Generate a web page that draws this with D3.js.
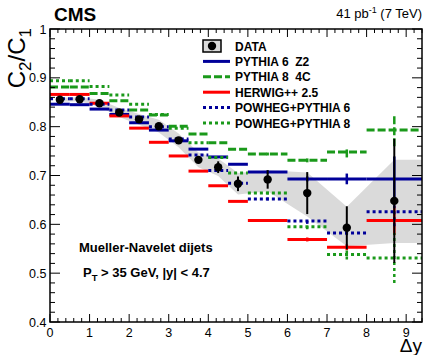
<!DOCTYPE html>
<html>
<head>
<meta charset="utf-8">
<script src="https://cdn.jsdelivr.net/npm/d3@7"></script>
<style>
  body { margin: 0; background: #fff; }
  svg { display: block; }
  text { font-family: "Liberation Sans", Arial, Helvetica, sans-serif; fill: #000; white-space: pre; }
</style>
</head>
<body>
<svg id="chart" width="425" height="355"></svg>
<script>
// Δy bins
const binLow    = [0, 0.5, 1, 1.5, 2, 2.5, 3, 3.5, 4, 4.5, 5, 6, 7, 8];
const binHigh   = [0.5, 1, 1.5, 2, 2.5, 3, 3.5, 4, 4.5, 5, 6, 7, 8, 9.4];
const binCenter = [0.25, 0.75, 1.25, 1.75, 2.25, 2.75, 3.25, 3.75, 4.25, 4.75, 5.5, 6.5, 7.5, 8.7];

// Measured C2/C1 with statistical and systematic uncertainties
const dataValues = [0.855, 0.856, 0.848, 0.829, 0.815, 0.801, 0.772, 0.732, 0.717, 0.683, 0.692, 0.664, 0.593, 0.648];
const dataStat   = [0.003, 0.003, 0.003, 0.003, 0.003, 0.003, 0.004, 0.005, 0.012, 0.015, 0.019, 0.043, 0.044, 0.127];
const sysUp      = [0.004, 0.004, 0.007, 0.009, 0.011, 0.013, 0.014, 0.015, 0.018, 0.022, 0.019, 0.042, 0.043, 0.084];
const sysDown    = [0.004, 0.004, 0.007, 0.009, 0.011, 0.013, 0.014, 0.015, 0.018, 0.022, 0.024, 0.048, 0.038, 0.086];

// Generator predictions per bin, with their statistical uncertainties
const pythia6Z2    = [0.846, 0.845, 0.836, 0.825, 0.808, 0.793, 0.771, 0.754, 0.738, 0.723, 0.707, 0.693, 0.693, 0.693];
const pythia6Z2Err = [0, 0, 0, 0, 0, 0, 0, 0, 0, 0, 0.003, 0.005, 0.011, 0.046];
const pythia84C    = [0.881, 0.881, 0.868, 0.853, 0.834, 0.824, 0.801, 0.785, 0.767, 0.754, 0.744, 0.731, 0.748, 0.793];
const pythia84CErr = [0, 0, 0, 0, 0, 0, 0, 0, 0, 0, 0.003, 0.004, 0.011, 0.033];
const herwig25     = [0.866, 0.866, 0.848, 0.822, 0.797, 0.768, 0.740, 0.709, 0.679, 0.647, 0.608, 0.569, 0.553, 0.608];
const herwig25Err  = [0, 0, 0, 0, 0, 0, 0, 0, 0, 0, 0.002, 0.004, 0.006, 0.030];
const powhegP6     = [0.857, 0.857, 0.846, 0.834, 0.820, 0.800, 0.775, 0.742, 0.710, 0.684, 0.652, 0.607, 0.582, 0.626];
const powhegP6Err  = [0, 0, 0, 0, 0, 0, 0, 0, 0, 0, 0.003, 0.006, 0.004, 0.030];
const powhegP8     = [0.894, 0.894, 0.882, 0.865, 0.846, 0.825, 0.797, 0.767, 0.737, 0.705, 0.664, 0.595, 0.538, 0.531];
const powhegP8Err  = [0, 0, 0, 0, 0, 0, 0, 0, 0, 0, 0.003, 0.005, 0.010, 0.051];

// Axis ticks and labels
const xMajorTicks = [0, 1, 2, 3, 4, 5, 6, 7, 8, 9];
const yMajorTicks = [0.4, 0.5, 0.6, 0.7, 0.8, 0.9, 1.0];
const yTickLabels = ["0.4", "0.5", "0.6", "0.7", "0.8", "0.9", "1"];
const legendLabels = ["DATA", "PYTHIA 6\u00a0\u00a0Z2", "PYTHIA 8\u00a0\u00a04C", "HERWIG++ 2.5", "POWHEG+PYTHIA 6", "POWHEG+PYTHIA 8"];

const models = [
  { values: pythia6Z2, errors: pythia6Z2Err, color: "#000099", dash: null },
  { values: pythia84C, errors: pythia84CErr, color: "#1a991a", dash: "8,3" },
  { values: herwig25,  errors: herwig25Err,  color: "#ff0000", dash: null },
  { values: powhegP6,  errors: powhegP6Err,  color: "#000099", dash: "3,3" },
  { values: powhegP8,  errors: powhegP8Err,  color: "#1a991a", dash: "3,3" }
];

const svg = d3.select("#chart");
const frameLeft = 50, frameRight = 422, frameTop = 29, frameBottom = 322;

const x = d3.scaleLinear().domain([0, 9.4]).range([frameLeft, frameRight]);
const y = d3.scaleLinear().domain([0.4, 1.0]).range([frameBottom, frameTop]);

const plot = svg.append("g");

// Systematic uncertainty band
const bandPts = binCenter.map((c, i) => ({ x: c, lo: dataValues[i] - sysDown[i], hi: dataValues[i] + sysUp[i] }));
const lastPt = bandPts[bandPts.length - 1];
bandPts.push({ x: x.domain()[1], lo: lastPt.lo, hi: lastPt.hi });
plot.append("path")
  .datum(bandPts)
  .attr("fill", "#dadada")
  .attr("d", d3.area().x(d => x(d.x)).y0(d => y(d.lo)).y1(d => y(d.hi)));

// Model predictions: horizontal bin segments plus vertical uncertainty ticks
models.forEach(m => {
  const g = plot.append("g");
  g.selectAll("line.h")
    .data(m.values)
    .join("line")
    .attr("class", "h")
    .attr("x1", (v, i) => x(binLow[i]))
    .attr("x2", (v, i) => x(binHigh[i]))
    .attr("y1", v => y(v))
    .attr("y2", v => y(v))
    .attr("stroke", m.color)
    .attr("stroke-width", 3)
    .attr("stroke-dasharray", m.dash);
  g.selectAll("line.v")
    .data(m.values.map((v, i) => ({ v, e: m.errors[i], c: binCenter[i] })).filter(d => d.e > 0))
    .join("line")
    .attr("class", "v")
    .attr("x1", d => x(d.c))
    .attr("x2", d => x(d.c))
    .attr("y1", d => y(d.v - d.e))
    .attr("y2", d => y(d.v + d.e))
    .attr("stroke", m.color)
    .attr("stroke-width", 2.5)
    .attr("stroke-dasharray", m.dash);
});

// Data points with statistical error bars
plot.selectAll("line.err")
  .data(dataValues)
  .join("line")
  .attr("class", "err")
  .attr("x1", (v, i) => x(binCenter[i]))
  .attr("x2", (v, i) => x(binCenter[i]))
  .attr("y1", (v, i) => y(v - dataStat[i]))
  .attr("y2", (v, i) => y(v + dataStat[i]))
  .attr("stroke", "#000")
  .attr("stroke-width", 2);
plot.selectAll("circle.pt")
  .data(dataValues)
  .join("circle")
  .attr("class", "pt")
  .attr("cx", (v, i) => x(binCenter[i]))
  .attr("cy", v => y(v))
  .attr("r", 4.2)
  .attr("fill", "#000");

// Frame and ticks (ticks point inward on all four sides)
const axes = svg.append("g").attr("stroke", "#000");
axes.append("rect")
  .attr("x", frameLeft).attr("y", frameTop)
  .attr("width", frameRight - frameLeft).attr("height", frameBottom - frameTop)
  .attr("fill", "none").attr("stroke-width", 1.5);

const xMinor = d3.range(0, 48).map(k => k * 0.2).filter(t => t <= 9.4 + 1e-9);
xMinor.forEach(t => {
  const isMajor = Math.abs(t - Math.round(t)) < 1e-6;
  const len = isMajor ? 8 : 4;
  axes.append("line").attr("x1", x(t)).attr("x2", x(t)).attr("y1", frameBottom).attr("y2", frameBottom - len).attr("stroke-width", 1);
  axes.append("line").attr("x1", x(t)).attr("x2", x(t)).attr("y1", frameTop).attr("y2", frameTop + len).attr("stroke-width", 1);
});
const yMinor = d3.range(0, 31).map(k => 0.4 + k * 0.02);
yMinor.forEach((t, k) => {
  const isMajor = k % 5 === 0;
  const len = isMajor ? 10 : 5;
  axes.append("line").attr("x1", frameLeft).attr("x2", frameLeft + len).attr("y1", y(t)).attr("y2", y(t)).attr("stroke-width", 1);
  axes.append("line").attr("x1", frameRight).attr("x2", frameRight - len).attr("y1", y(t)).attr("y2", y(t)).attr("stroke-width", 1);
});

// Tick labels
svg.append("g").selectAll("text")
  .data(xMajorTicks)
  .join("text")
  .attr("x", d => x(d))
  .attr("y", 336.5)
  .attr("text-anchor", "middle")
  .attr("font-size", 12.5)
  .text(d => d);
svg.append("g").selectAll("text")
  .data(yMajorTicks)
  .join("text")
  .attr("x", 46.5)
  .attr("y", d => y(d) + 4.5)
  .attr("text-anchor", "end")
  .attr("font-size", 12.5)
  .text((d, i) => yTickLabels[i]);

// Axis titles
const yTitle = svg.append("text")
  .attr("transform", "translate(25,28) rotate(-90)")
  .attr("text-anchor", "end")
  .attr("font-size", 24);
yTitle.append("tspan").text("C");
yTitle.append("tspan").attr("dy", 6).attr("font-size", 17).text("2");
yTitle.append("tspan").attr("dy", -6).text("/C");
yTitle.append("tspan").attr("dy", 6).attr("font-size", 17).text("1");

svg.append("text")
  .attr("x", 422).attr("y", 352)
  .attr("text-anchor", "end")
  .attr("font-size", 19)
  .text("Δy");

// Header texts
svg.append("text")
  .attr("x", 54).attr("y", 21)
  .attr("font-size", 19).attr("font-weight", "bold")
  .text("CMS");
const lumi = svg.append("text")
  .attr("x", 422).attr("y", 18)
  .attr("text-anchor", "end")
  .attr("font-size", 13);
lumi.append("tspan").text("41 pb");
lumi.append("tspan").attr("dy", -5).attr("font-size", 9).text("-1");
lumi.append("tspan").attr("dy", 5).text(" (7 TeV)");

// Selection text
svg.append("text")
  .attr("x", 79).attr("y", 252)
  .attr("font-size", 13).attr("font-weight", "bold")
  .text("Mueller-Navelet dijets");
const cut = svg.append("text")
  .attr("x", 83).attr("y", 276.5)
  .attr("font-size", 13).attr("font-weight", "bold");
cut.append("tspan").text("P");
cut.append("tspan").attr("dy", 4).attr("font-size", 9.5).text("T");
cut.append("tspan").attr("dy", -4).text(" > 35 GeV, |y| < 4.7");

// Legend
const legend = svg.append("g");
const legY0 = 46, legStep = 15.4;
legend.append("rect")
  .attr("x", 203).attr("y", legY0 - 6).attr("width", 18).attr("height", 12)
  .attr("fill", "#dadada").attr("stroke", "#000").attr("stroke-width", 1.5);
legend.append("circle").attr("cx", 212).attr("cy", legY0).attr("r", 4.2).attr("fill", "#000");
models.forEach((m, i) => {
  const ly = legY0 + (i + 1) * legStep;
  legend.append("line")
    .attr("x1", 203).attr("x2", 230)
    .attr("y1", ly).attr("y2", ly)
    .attr("stroke", m.color).attr("stroke-width", 3)
    .attr("stroke-dasharray", m.dash);
});
legend.selectAll("text")
  .data(legendLabels)
  .join("text")
  .attr("x", 235)
  .attr("y", (d, i) => legY0 + i * legStep + 4.5)
  .attr("font-size", 12)
  .attr("font-weight", "bold")
  .text(d => d);
</script>
</body>
</html>
